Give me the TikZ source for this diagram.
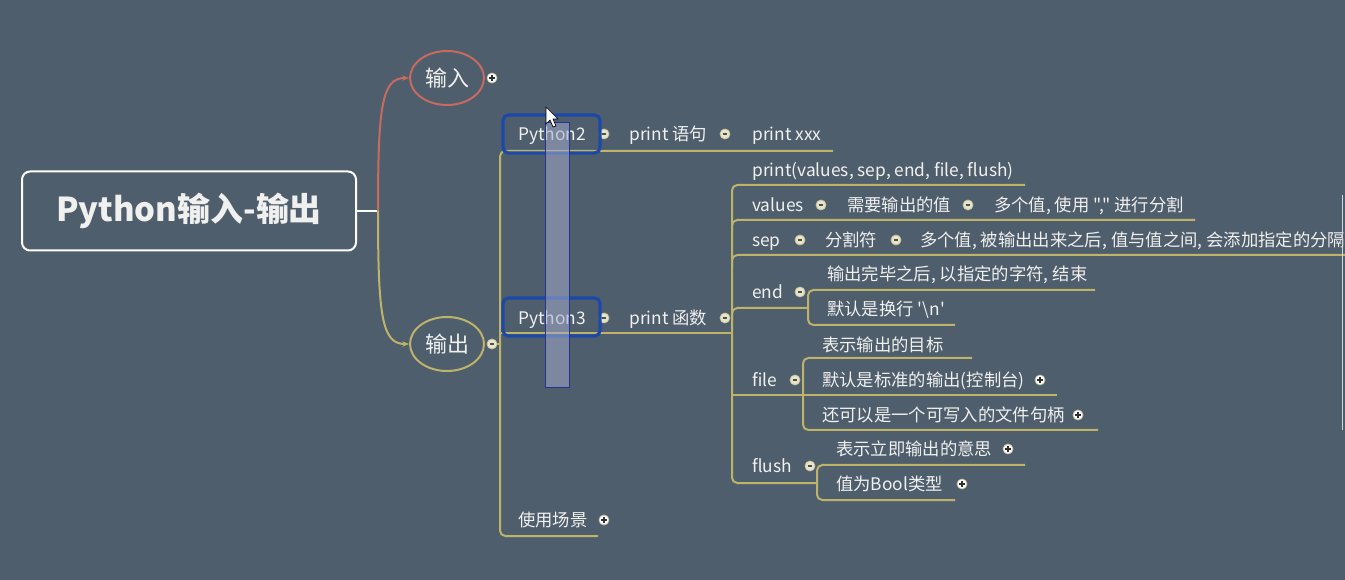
\documentclass[tikz,border=0pt]{standalone}
\usepackage{fontspec}
\newfontfamily\cjk[Ligatures=TeXOff]{Noto Sans CJK SC}
\usetikzlibrary{arrows.meta,shapes.geometric,calc}
\definecolor{bg}{HTML}{4F5E6D}
\definecolor{lc}{HTML}{BDB46A}
\definecolor{rc}{HTML}{C76A5F}
\definecolor{tc}{HTML}{F0F0EE}
\definecolor{hb}{HTML}{1C48A8}
\definecolor{bfill}{HTML}{E9E5C9}
\definecolor{bring}{HTML}{C9C4A0}
\definecolor{bsym}{HTML}{4A5058}
\definecolor{selfill}{HTML}{A3ABCB}
\definecolor{selline}{HTML}{27348F}
\begin{document}
\begin{tikzpicture}[x=0.75pt,y=-0.75pt,
  lw/.style={line width=1.5pt},
  tx/.style={anchor=west, inner sep=0pt, text=tc, font=\cjk\fontsize{13}{15}\selectfont, text height=11.4pt, text depth=1.6pt},
  rootbox/.style={draw=white, line width=1.5pt, rounded corners=6pt, text=tc, font=\cjk\bfseries\fontsize{24.7}{28}\selectfont, minimum width=250.5pt, minimum height=59.25pt, inner sep=0pt},
  oval/.style={ellipse, line width=1.5pt, text=tc, font=\cjk\fontsize{16.5}{19}\selectfont, minimum width=55.5pt, minimum height=40.5pt, inner sep=0pt},
  btn/.style={circle, inner sep=0pt, minimum size=7.5pt, fill=bfill, draw=bring, line width=0.6pt},
  bminus/.style={btn, path picture={\draw[line width=1pt, bsym] ($(path picture bounding box.center)+(-1.7pt,0pt)$) -- ($(path picture bounding box.center)+(1.7pt,0pt)$);}},
  bplus/.style={btn, fill=white, path picture={\draw[line width=1pt, bsym!60!black] ($(path picture bounding box.center)+(-2pt,0pt)$) -- ($(path picture bounding box.center)+(2pt,0pt)$) ($(path picture bounding box.center)+(0pt,-2pt)$) -- ($(path picture bounding box.center)+(0pt,2pt)$);}},
  tree/.style={lc, line width=1.5pt, rounded corners=4pt},
  hl/.style={draw=hb, line width=2.4pt, rounded corners=4pt}
]
\fill[bg] (0,0) rectangle (1345,580);
\useasboundingbox (0,0) rectangle (1345,580);
\clip (0,0) rectangle (1345,580);

% root and first level
\node[rootbox] (root) at (189,211) {Python输入-输出};
\node[oval, draw=rc] (in) at (447,78) {输入};
\node[oval, draw=lc] (out) at (447,344) {输出};
\node[bplus] (bin) at (492,78) {};
\node[bminus] (bout) at (492,344) {};
\coordinate (j) at (378,211);
\draw[white, lw] (root.east) -- (j);
\draw[rc, lw, -{Stealth[length=5pt,width=4pt]}] (j) .. controls (378,105) and (382,78) .. (in.west);
\draw[lc, lw, -{Stealth[length=5pt,width=4pt]}] (j) .. controls (378,317) and (382,344) .. (out.west);

% second level
\node[tx] (py2) at (518,134) {Python2};
\node[bminus] (b1) at (604,134) {};
\node[tx] (ps) at (629,134) {print 语句};
\node[bminus] (b2) at (725,134) {};
\node[tx] (pxxx) at (752,134) {print xxx};
\node[tx] (py3) at (518,318) {Python3};
\node[bminus] (b3) at (604,318) {};
\node[tx] (pf) at (629,318) {print 函数};
\node[bminus] (b4) at (725,318) {};
\node[tx] (use) at (518,520) {使用场景};
\node[bplus] (b5) at (604,520) {};

% print function children
\node[tx] (sig) at (752,170) {print(values, sep, end, file, flush)};
\node[tx] (val) at (752,205) {values};
\node[bminus] (b6) at (821,205) {};
\node[tx] (val1) at (847,205) {需要输出的值};
\node[bminus] (b7) at (968,205) {};
\node[tx] (val2) at (994,205) {多个值, 使用 "," 进行分割};
\node[tx] (sep) at (752,240) {sep};
\node[bminus] (b8) at (800,240) {};
\node[tx] (sep1) at (825,240) {分割符};
\node[bminus] (b9) at (896,240) {};
\node[tx] (sep2) at (920,240) {多个值, 被输出出来之后, 值与值之间, 会添加指定的分隔符};
\node[tx] (end) at (752,292) {end};
\node[bminus] (b10) at (800,292) {};
\node[tx] (end1) at (827,274) {输出完毕之后, 以指定的字符, 结束};
\node[tx] (end2) at (827,309) {默认是换行 '\textbackslash n'};
\node[tx] (file) at (752,380) {file};
\node[bminus] (b11) at (795,380) {};
\node[tx] (f1) at (822,345) {表示输出的目标};
\node[tx] (f2) at (822,380) {默认是标准的输出(控制台)};
\node[bplus] (b12) at (1040,380) {};
\node[tx] (f3) at (822,415) {还可以是一个可写入的文件句柄};
\node[bplus] (b13) at (1078,415) {};
\node[tx] (flush) at (752,466) {flush};
\node[bminus] (b14) at (810,466) {};
\node[tx] (fl1) at (836,449) {表示立即输出的意思};
\node[bplus] (b15) at (1008,449) {};
\node[tx] (fl2) at (836,484) {值为Bool类型};
\node[bplus] (b16) at (962,484) {};

% tree connectors
\coordinate (t0) at (500,344);
\draw[lc, lw] (bout.east) -- (t0);
\coordinate (py2e) at (833,151);
\coordinate (vb) at (500,536);
\coordinate (usee) at (598,536);
\draw[tree] (py2e) -| (vb) -- (usee);
\coordinate (py3l) at (500,333);
\coordinate (pfj) at (732,333);
\draw[lc, lw] (py3l) -- (pfj);
\coordinate (sige) at (1025,185);
\coordinate (pfb) at (732,483);
\coordinate (flj) at (817,483);
\draw[tree] (sige) -| (pfb) -- (flj);
\coordinate (vale) at (1195,220);
\draw[tree] (vale) -| (732,232);
\coordinate (sepe) at (1345,255);
\draw[tree] (sepe) -| (732,267);
\coordinate (endj) at (808,308);
\draw[tree] (endj) -| (732,320);
\coordinate (end1e) at (1095,290);
\coordinate (end2e) at (955,325);
\draw[tree] (end1e) -| (808,325) -- (end2e);
\coordinate (filej) at (732,395);
\coordinate (f2e) at (1057,395);
\draw[lc, lw] (filej) -- (f2e);
\coordinate (f1e) at (972,358);
\coordinate (f3e) at (1098,430);
\draw[tree] (f1e) -| (803,430) -- (f3e);
\coordinate (fl1e) at (1025,465);
\coordinate (fl2e) at (955,500);
\draw[tree] (fl1e) -| (817,500) -- (fl2e);

% highlight boxes
\draw[hl] (503,115) rectangle (600,153);
\draw[hl] (503,298) rectangle (600,336);
% translucent selection bar
\fill[selfill, fill opacity=0.55] (545,122) rectangle (569,387);
\draw[selline, line width=0.6pt] (545,122) rectangle (569,387);
% mouse cursor
\draw[fill=white, draw=black, line width=0.5pt, line join=round]
  (546,107) -- (546,124) -- (550,120) -- (553,127) -- (556,126) -- (553,119) -- (558,119) -- cycle;
% window edge
\draw[white!75!bg, line width=0.6pt] (1342,195) -- (1342,430);
\end{tikzpicture}
\end{document}
